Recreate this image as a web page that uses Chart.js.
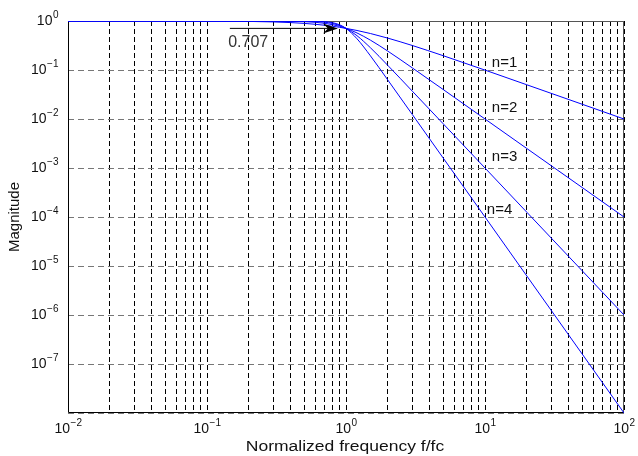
<!DOCTYPE html>
<html>
<head>
<meta charset="utf-8">
<title>Magnitude vs normalized frequency</title>
<script src="https://cdn.jsdelivr.net/npm/chart.js@4.4.1/dist/chart.umd.min.js"></script>
<style>
    html, body { margin: 0; padding: 0; background: #fff; }
    #wrap { width: 638px; height: 456px; }
</style>
</head>
<body>
<div id="wrap"><canvas id="magChart" width="638" height="456"></canvas></div>
<script>
// Frecuencia normalizada f/fc
const freq = [0.01, 0.1, 0.2, 0.3, 0.4, 0.5, 0.6, 0.7, 0.8, 0.9, 1, 1.2, 1.5, 2, 3, 5, 10, 20, 50, 100];

// Magnitud para cada orden n
const magN1 = [1.0, 0.995, 0.981, 0.958, 0.928, 0.894, 0.857, 0.819, 0.781, 0.743, 0.707, 0.640, 0.555, 0.447, 0.316, 0.196, 0.0995, 0.0499, 0.02, 0.01];
const magN2 = [1.0, 1.0, 0.9992, 0.996, 0.987, 0.970, 0.941, 0.898, 0.842, 0.777, 0.707, 0.570, 0.406, 0.2425, 0.1104, 0.04, 0.01, 0.0025, 0.0004, 0.0001];
const magN3 = [1.0, 1.0, 1.0, 0.9996, 0.998, 0.9923, 0.9775, 0.946, 0.890, 0.808, 0.707, 0.501, 0.284, 0.124, 0.037, 0.008, 0.001, 1.25e-4, 8e-6, 1e-6];
const magN4 = [1.0, 1.0, 1.0, 1.0, 0.9997, 0.998, 0.9917, 0.9724, 0.925, 0.836, 0.707, 0.434, 0.194, 0.0624, 0.01235, 0.0016, 1e-4, 6.25e-6, 1.6e-7, 1e-8];

const seriesNames = ['n=1', 'n=2', 'n=3', 'n=4'];
// Posición (f, magnitud) de cada etiqueta de serie
const labelFreq = [11.2, 11.2, 11.2, 10.3];
const labelMag = [0.139, 0.0168, 0.00168, 1.39e-4];

// Exponentes de las etiquetas de los ejes (10^k)
const xTickExps = [-2, -1, 0, 1, 2];
const yTickExps = [0, -1, -2, -3, -4, -5, -6, -7];

// Flecha de -3 dB
const arrowLevel = 0.707;
const arrowFrom = 0.146;
const arrowTo = 0.875;
const arrowText = '0.707';
const arrowTextFreq = 0.142;
const arrowTextMag = 0.36;

const FONT = '"Liberation Sans", Arial, Helvetica, sans-serif';

function toPoints(values) {
    return freq.map((f, i) => ({ x: f, y: values[i] }));
}

// Múltiplos 1..9 de cada década para la rejilla vertical
function minorTicks(min, max) {
    const ticks = [];
    for (let e = Math.log10(min); e < Math.log10(max); e++) {
        for (let m = 1; m <= 9; m++) ticks.push({ value: m * Math.pow(10, e) });
    }
    ticks.push({ value: max });
    return ticks;
}

function drawPow(ctx, x, y, exp, align, size) {
    const base = '10';
    const sup = String(exp).replace('-', '\u2212');
    ctx.font = size + 'px ' + FONT;
    const wb = ctx.measureText(base).width;
    ctx.font = Math.round(size * 0.72) + 'px ' + FONT;
    const ws = ctx.measureText(sup).width;
    let left = x;
    if (align === 'center') left = x - (wb + ws) / 2;
    if (align === 'right') left = x - wb - ws;
    ctx.textAlign = 'left';
    ctx.textBaseline = 'middle';
    ctx.font = size + 'px ' + FONT;
    ctx.fillText(base, left, y);
    ctx.font = Math.round(size * 0.72) + 'px ' + FONT;
    ctx.fillText(sup, left + wb + 0.5, y - size * 0.42);
}

const overlay = {
    id: 'overlay',
    beforeDatasetsDraw(chart) {
        const { ctx, chartArea: a } = chart;
        ctx.save();
        // Marco: izquierda y abajo en negro, arriba y derecha en gris
        ctx.lineWidth = 1;
        ctx.strokeStyle = '#555';
        ctx.beginPath();
        ctx.moveTo(a.left, a.top + 0.5);
        ctx.lineTo(a.right - 0.5, a.top + 0.5);
        ctx.lineTo(a.right - 0.5, a.bottom);
        ctx.stroke();
        ctx.strokeStyle = '#000';
        ctx.beginPath();
        ctx.moveTo(a.left + 0.5, a.top);
        ctx.lineTo(a.left + 0.5, a.bottom - 0.5);
        ctx.lineTo(a.right, a.bottom - 0.5);
        ctx.stroke();
        ctx.restore();
    },
    afterDraw(chart) {
        const { ctx, chartArea: a, scales: { x, y } } = chart;
        ctx.save();

        // Etiquetas de los ejes en notación 10^k
        ctx.fillStyle = '#111';
        yTickExps.forEach(e => drawPow(ctx, a.left - 10, y.getPixelForValue(Math.pow(10, e)), e, 'right', 14));
        xTickExps.forEach(e => drawPow(ctx, x.getPixelForValue(Math.pow(10, e)), a.bottom + 16, e, 'center', 14));

        // Títulos de los ejes
        ctx.font = '14px ' + FONT;
        ctx.textAlign = 'center';
        ctx.textBaseline = 'middle';
        ctx.save();
        ctx.translate(345, 447);
        ctx.scale(1.25, 1);
        ctx.fillText('Normalized frequency f/fc', 0, 0);
        ctx.restore();
        ctx.save();
        ctx.translate(15, 217);
        ctx.rotate(-Math.PI / 2);
        ctx.font = '15px ' + FONT;
        ctx.fillText('Magnitude', 0, 0);
        ctx.restore();

        // Etiquetas de cada curva
        ctx.font = '15px ' + FONT;
        ctx.textAlign = 'left';
        seriesNames.forEach((name, i) => {
            ctx.fillText(name, x.getPixelForValue(labelFreq[i]), y.getPixelForValue(labelMag[i]));
        });

        // Flecha hacia el punto de 0.707
        const ay = y.getPixelForValue(arrowLevel);
        const ax0 = x.getPixelForValue(arrowFrom);
        const ax1 = x.getPixelForValue(arrowTo);
        ctx.strokeStyle = '#000';
        ctx.fillStyle = '#000';
        ctx.beginPath();
        ctx.moveTo(ax0, ay);
        ctx.lineTo(ax1 - 8, ay);
        ctx.stroke();
        ctx.beginPath();
        ctx.moveTo(ax1, ay);
        ctx.lineTo(ax1 - 15, ay - 5);
        ctx.lineTo(ax1 - 10, ay);
        ctx.lineTo(ax1 - 15, ay + 5);
        ctx.closePath();
        ctx.fill();

        ctx.fillStyle = '#333';
        ctx.font = '16px ' + FONT;
        ctx.textBaseline = 'middle';
        ctx.fillText(arrowText, x.getPixelForValue(arrowTextFreq), y.getPixelForValue(arrowTextMag));

        ctx.restore();
    }
};

const curveStyle = {
    borderColor: '#0000ff',
    borderWidth: 1,
    pointRadius: 0,
    fill: false,
    cubicInterpolationMode: 'monotone'
};

new Chart(document.getElementById('magChart').getContext('2d'), {
    type: 'line',
    data: {
        datasets: [magN1, magN2, magN3, magN4].map((vals, i) => Object.assign({
            label: seriesNames[i],
            data: toPoints(vals)
        }, curveStyle))
    },
    options: {
        responsive: false,
        animation: false,
        events: [],
        layout: { padding: { left: 68, right: 14, top: 21, bottom: 43 } },
        plugins: {
            legend: { display: false },
            tooltip: { enabled: false }
        },
        scales: {
            x: {
                type: 'logarithmic',
                min: 0.01,
                max: 100,
                afterBuildTicks: scale => { scale.ticks = minorTicks(0.01, 100); },
                afterFit: scale => { scale.height = 0; },
                ticks: { display: false },
                border: { display: false, dash: [5, 3] },
                grid: { color: '#000', lineWidth: 1, drawTicks: false }
            },
            y: {
                type: 'logarithmic',
                min: 1e-8,
                max: 1,
                afterBuildTicks: scale => {
                    scale.ticks = [];
                    for (let e = -8; e <= 0; e++) scale.ticks.push({ value: Math.pow(10, e) });
                },
                afterFit: scale => { scale.width = 0; },
                ticks: { display: false },
                border: { display: false, dash: [6, 4] },
                grid: { color: '#777', lineWidth: 1, drawTicks: false }
            }
        }
    },
    plugins: [overlay]
});
</script>
</body>
</html>
